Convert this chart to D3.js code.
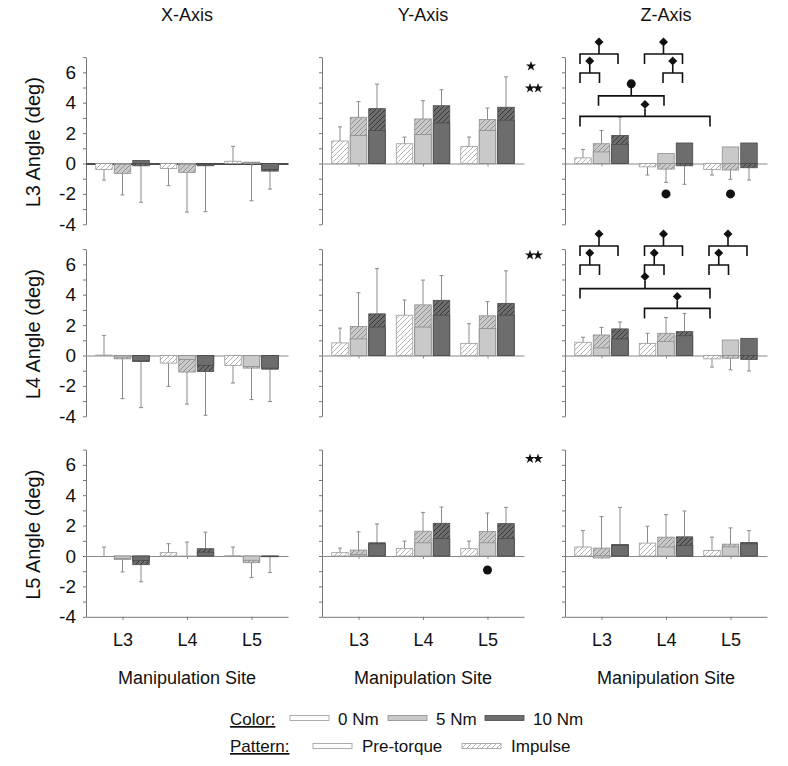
<!DOCTYPE html>
<html>
<head>
<meta charset="utf-8">
<script src="https://cdn.jsdelivr.net/npm/d3@7"></script>
<style>
  body { margin: 0; background: #fff; }
  text { font-family: "Liberation Sans", Arial, sans-serif; fill: #111; }
</style>
</head>
<body>
<div id="chart"></div>
<script>
// ---- data ----
let axisNames = ["X-Axis", "Y-Axis", "Z-Axis"];
let levelNames = ["L3", "L4", "L5"];   // rows: measured vertebra
let sites = ["L3", "L4", "L5"];        // manipulation site
let torques = ["0 Nm", "5 Nm", "10 Nm"];
let yTicks = [-4, -2, 0, 2, 4, 6];

// each inner array: 9 bars, L3 (0,5,10 Nm), L4 (0,5,10 Nm), L5 (0,5,10 Nm)
// impulse = peak angle (hatched), pre = pre-torque angle (plain), sd = signed error bar length
let impulseX = [
  [-0.39, -0.65, -0.15, -0.33, -0.59, -0.15, 0.15, 0.09, -0.50],
  [0.03, -0.22, -0.39, -0.50, -1.09, -1.05, -0.65, -0.83, -0.90],
  [0.00, -0.22, -0.57, 0.22, -0.03, 0.48, 0.02, -0.44, -0.05]
];
let preX = [
  [0, -0.05, 0.20, 0, -0.05, -0.05, 0, 0.05, -0.40],
  [0, -0.10, -0.35, 0, -0.26, -0.65, 0, -0.72, -0.83],
  [0, -0.15, -0.30, 0, 0.00, 0.25, 0, -0.28, -0.03]
];
let sdX = [
  [-0.70, -1.42, -2.40, -1.13, -2.61, -3.02, 0.98, -2.54, -1.18],
  [1.28, -2.62, -3.04, -1.53, -2.11, -2.88, -1.16, -2.07, -2.13],
  [0.59, -0.83, -1.13, 0.59, 0.95, 1.09, 0.57, -0.98, -1.04]
];

let impulseY = [
  [1.48, 3.04, 3.61, 1.30, 2.93, 3.80, 1.11, 2.89, 3.70],
  [0.83, 1.91, 2.74, 2.65, 3.33, 3.63, 0.80, 2.61, 3.43],
  [0.22, 0.39, 0.87, 0.50, 1.63, 2.15, 0.48, 1.61, 2.13]
];
let preY = [
  [0, 1.85, 2.17, 0, 1.91, 2.67, 0, 2.17, 2.85],
  [0, 1.09, 1.87, 0, 1.87, 2.65, 0, 1.78, 2.65],
  [0, 0.10, 0.80, 0, 0.87, 1.15, 0, 0.87, 1.15]
];
let sdY = [
  [0.93, 1.03, 1.61, 0.44, 1.20, 1.05, 0.63, 0.76, 2.00],
  [0.97, 2.22, 2.98, 1.00, 1.63, 1.63, 1.29, 0.93, 2.14],
  [0.30, 1.20, 1.24, 0.48, 1.24, 1.07, 0.50, 1.22, 1.07]
];

let impulseZ = [
  [0.37, 1.30, 1.85, -0.22, -0.37, -0.15, -0.39, -0.43, -0.28],
  [0.87, 1.35, 1.75, 0.80, 1.46, 1.57, -0.22, -0.18, -0.26],
  [0.59, 0.52, 0.76, 0.85, 1.24, 1.26, 0.37, 0.78, 0.89]
];
let preZ = [
  [0, 0.76, 1.26, 0, 0.65, 1.35, 0, 1.09, 1.35],
  [0, 0.50, 1.09, 0, 0.93, 1.30, 0, 1.02, 1.13],
  [0, -0.13, 0.70, 0, 0.59, 0.70, 0, 0.60, 0.80]
];
let sdZ = [
  [0.56, 0.87, 1.19, -0.54, -0.87, -1.22, -0.37, -0.61, -0.81],
  [0.33, 0.50, 0.45, 0.66, 1.04, 1.20, -0.54, -0.76, -0.76],
  [1.08, 2.07, 2.44, 1.11, 1.48, 1.70, 0.87, 1.07, 0.78]
];

// significance marks
// stars: [row, col, y value, count]
let stars = [[0, 1, 6.4, 1], [0, 1, 4.95, 2], [1, 1, 6.6, 2], [2, 1, 6.4, 2]];
// dots: [row, col, site, torque, y value]
let dots = [[0, 2, 1, 1, -2.0], [0, 2, 2, 1, -2.0], [2, 1, 2, 1, -0.92]];
// brackets: [row, col, siteA, torqueA, siteB, torqueB, level, marker]
let brackets = [
  [0, 2, 0, 0, 0, 2, 7.2, "diamond"], [0, 2, 0, 0, 0, 1, 5.95, "diamond"],
  [0, 2, 1, 0, 1, 2, 7.2, "diamond"], [0, 2, 1, 1, 1, 2, 5.95, "diamond"],
  [0, 2, 0, 1, 1, 1, 4.45, "circle"], [0, 2, 0, 0, 2, 0, 3.1, "diamond"],
  [1, 2, 0, 0, 0, 2, 7.2, "diamond"], [1, 2, 1, 0, 1, 2, 7.2, "diamond"],
  [1, 2, 2, 0, 2, 2, 7.2, "diamond"], [1, 2, 0, 0, 0, 1, 5.95, "diamond"],
  [1, 2, 1, 0, 1, 1, 5.95, "diamond"], [1, 2, 2, 0, 2, 1, 5.95, "diamond"],
  [1, 2, 0, 0, 2, 0, 4.4, "diamond"], [1, 2, 1, 0, 2, 0, 3.1, "diamond"]
];

let impulse = [impulseX, impulseY, impulseZ];
let pre = [preX, preY, preZ];
let sd = [sdX, sdY, sdZ];

// ---- layout ----
let width = 788;
let height = 766;
let colX = [86, 322, 565];
let panelW = 202;
let rowZero = [163.5, 355.5, 556];
let unit = 15.2;
let barW = 16.5;

let fills = ["#ffffff", "#c9c9c9", "#6d6d6d"];
let hatchInk = ["#b4b4b4", "#909090", "#383838"];
let outline = ["#9a9a9a", "#8c8c8c", "#4a4a4a"];

let svg = d3.select("#chart")
  .append("svg")
  .attr("width", width)
  .attr("height", height);

// hatch patterns, one per torque colour
let defs = svg.append("defs");
fills.forEach(function(f, i) {
  let p = defs.append("pattern")
    .attr("id", "hatch" + i)
    .attr("patternUnits", "userSpaceOnUse")
    .attr("width", 5)
    .attr("height", 5);
  p.append("rect").attr("width", 5).attr("height", 5).attr("fill", f);
  p.append("path")
    .attr("d", "M-1,1 l2,-2 M0,5 l5,-5 M4,6 l2,-2")
    .attr("stroke", hatchInk[i])
    .attr("stroke-width", 1);
});

function yScaleFor(row) {
  return d3.scaleLinear()
    .domain([-4, 7])
    .range([rowZero[row] + 4 * unit, rowZero[row] - 7 * unit]);
}

function xScaleFor(col) {
  return d3.scalePoint()
    .domain(sites)
    .range([colX[col], colX[col] + panelW])
    .padding(0.566);
}

let torqueOffset = d3.scalePoint().domain(torques).range([-18.5, 18.5]);

// column titles
axisNames.forEach(function(name, c) {
  svg.append("text")
    .attr("x", colX[c] + panelW / 2)
    .attr("y", 21)
    .attr("text-anchor", "middle")
    .attr("font-size", 18)
    .text(name);
});

for (let r = 0; r < 3; r++) {
  let y = yScaleFor(r);

  // row label
  svg.append("text")
    .attr("transform", "translate(40," + y(1.4) + ")rotate(-90)")
    .attr("text-anchor", "middle")
    .attr("font-size", 20)
    .text(levelNames[r] + " Angle (deg)");

  for (let c = 0; c < 3; c++) {
    let x = xScaleFor(c);
    let g = svg.append("g");

    // y axis
    let yAxis = d3.axisLeft(y)
      .tickValues(d3.range(-4, 8))
      .tickSize(3)
      .tickSizeOuter(0)
      .tickPadding(7)
      .tickFormat(function(d) {
        return (c === 0 && yTicks.includes(d)) ? String(d) : "";
      });
    let ya = g.append("g")
      .attr("transform", "translate(" + colX[c] + ",0)")
      .call(yAxis);
    ya.select(".domain").attr("stroke", "#777");
    ya.selectAll(".tick line").attr("stroke", "#777");
    ya.selectAll("text").attr("font-size", 19).attr("font-family", "Liberation Sans, Arial, sans-serif").attr("fill", "#111");

    // zero line with site ticks
    let zeroAxis = d3.axisBottom(x).tickSize(3).tickSizeOuter(0).tickFormat("");
    let za = g.append("g")
      .attr("transform", "translate(0," + y(0) + ")")
      .call(zeroAxis);
    let dark = (r === 0 && c === 0);
    za.select(".domain").attr("stroke", dark ? "#111" : "#8a8a8a").attr("stroke-width", dark ? 1.6 : 1);
    za.selectAll(".tick line").attr("stroke", "#8a8a8a");

    // bottom axis on last row
    if (r === 2) {
      let xa = g.append("g")
        .attr("transform", "translate(0," + y(-4) + ")")
        .call(d3.axisBottom(x).tickSize(3).tickSizeOuter(0).tickPadding(13));
      xa.select(".domain").attr("stroke", "#777");
      xa.selectAll(".tick line").attr("stroke", "#777");
      xa.selectAll("text").attr("font-size", 18).attr("font-family", "Liberation Sans, Arial, sans-serif").attr("fill", "#111");

      g.append("text")
        .attr("x", colX[c] + panelW / 2)
        .attr("y", 684)
        .attr("text-anchor", "middle")
        .attr("font-size", 18)
        .text("Manipulation Site");
    }

    // bar records
    let bars = [];
    sites.forEach(function(s, si) {
      torques.forEach(function(t, ti) {
        let k = si * 3 + ti;
        bars.push({
          site: s, torque: t, ti: ti,
          imp: impulse[c][r][k], pre: pre[c][r][k], sd: sd[c][r][k]
        });
      });
    });

    function cx(d) { return x(d.site) + torqueOffset(d.torque); }

    // error bars (drawn first, bars cover the part inside)
    let eg = g.append("g").attr("stroke", "#8a8a8a").attr("stroke-width", 1);
    eg.selectAll("line.err")
      .data(bars)
      .enter()
      .append("line")
      .attr("x1", cx).attr("x2", cx)
      .attr("y1", function(d) { return y(d.imp); })
      .attr("y2", function(d) { return y(d.imp + d.sd); });
    eg.selectAll("line.cap")
      .data(bars)
      .enter()
      .append("line")
      .attr("x1", function(d) { return cx(d) - 2; })
      .attr("x2", function(d) { return cx(d) + 2; })
      .attr("y1", function(d) { return y(d.imp + d.sd); })
      .attr("y2", function(d) { return y(d.imp + d.sd); });

    // impulse (hatched)
    g.selectAll("rect.imp")
      .data(bars)
      .enter()
      .append("rect")
      .attr("x", function(d) { return cx(d) - barW / 2; })
      .attr("width", barW)
      .attr("y", function(d) { return Math.min(y(0), y(d.imp)); })
      .attr("height", function(d) { return Math.abs(y(d.imp) - y(0)); })
      .attr("fill", function(d) { return "url(#hatch" + d.ti + ")"; })
      .attr("stroke", function(d) { return outline[d.ti]; })
      .attr("stroke-width", 0.8);

    // pre-torque (plain)
    g.selectAll("rect.pre")
      .data(bars.filter(function(d) { return d.pre !== 0; }))
      .enter()
      .append("rect")
      .attr("x", function(d) { return cx(d) - barW / 2; })
      .attr("width", barW)
      .attr("y", function(d) { return Math.min(y(0), y(d.pre)); })
      .attr("height", function(d) { return Math.abs(y(d.pre) - y(0)); })
      .attr("fill", function(d) { return fills[d.ti]; })
      .attr("stroke", function(d) { return outline[d.ti]; })
      .attr("stroke-width", 0.8);
  }
}

// stars
stars.forEach(function(s) {
  let y = yScaleFor(s[0]);
  let right = colX[s[1]] + panelW;
  for (let i = 0; i < s[3]; i++) {
    let xx = s[3] === 1 ? right + 7 : right + 6 + i * 8;
    svg.append("path")
      .attr("d", d3.symbol().type(d3.symbolStar).size(32)())
      .attr("transform", "translate(" + xx + "," + y(s[2]) + ")")
      .attr("fill", "#111");
  }
});

// dots
dots.forEach(function(d) {
  let y = yScaleFor(d[0]);
  let x = xScaleFor(d[1]);
  svg.append("circle")
    .attr("cx", x(sites[d[2]]) + torqueOffset(torques[d[3]]))
    .attr("cy", y(d[4]))
    .attr("r", 4.5)
    .attr("fill", "#111");
});

// brackets
brackets.forEach(function(b) {
  let y = yScaleFor(b[0]);
  let x = xScaleFor(b[1]);
  let x1 = x(sites[b[2]]) + torqueOffset(torques[b[3]]) - 3;
  let x2 = x(sites[b[4]]) + torqueOffset(torques[b[5]]) - 2;
  let yy = y(b[6]);
  let mid = (x1 + x2) / 2;
  svg.append("path")
    .attr("d", "M" + x1 + "," + (yy + 10) + "V" + yy + "H" + x2 + "V" + (yy + 10) + "M" + mid + "," + yy + "V" + (yy - 8))
    .attr("fill", "none")
    .attr("stroke", "#111")
    .attr("stroke-width", 1.6);
  if (b[7] === "circle") {
    svg.append("circle")
      .attr("cx", mid).attr("cy", yy - 12).attr("r", 4.5)
      .attr("fill", "#111");
  } else {
    svg.append("path")
      .attr("d", d3.symbol().type(d3.symbolSquare).size(40)())
      .attr("transform", "translate(" + mid + "," + (yy - 12) + ")rotate(45)")
      .attr("fill", "#111");
  }
});

// legend
let legend = svg.append("g");
legend.append("text").attr("x", 230).attr("y", 725).attr("font-size", 17)
  .attr("text-decoration", "underline").text("Color:");
legend.append("text").attr("x", 230).attr("y", 752).attr("font-size", 17)
  .attr("text-decoration", "underline").text("Pattern:");

let colorKeys = [290, 388, 485];
torques.forEach(function(t, i) {
  legend.append("rect")
    .attr("x", colorKeys[i]).attr("y", 715.5).attr("width", 39).attr("height", 5)
    .attr("fill", fills[i]).attr("stroke", outline[i]).attr("stroke-width", 0.8);
  legend.append("text").attr("x", colorKeys[i] + 48).attr("y", 725).attr("font-size", 17).text(t);
});

let patternNames = ["Pre-torque", "Impulse"];
let patternKeys = [313, 462];
patternNames.forEach(function(p, i) {
  legend.append("rect")
    .attr("x", patternKeys[i]).attr("y", 743.5).attr("width", 39).attr("height", 5)
    .attr("fill", i === 0 ? fills[0] : "url(#hatch0)")
    .attr("stroke", outline[0]).attr("stroke-width", 0.8);
  legend.append("text").attr("x", patternKeys[i] + 49).attr("y", 752).attr("font-size", 17).text(p);
});
</script>
</body>
</html>
